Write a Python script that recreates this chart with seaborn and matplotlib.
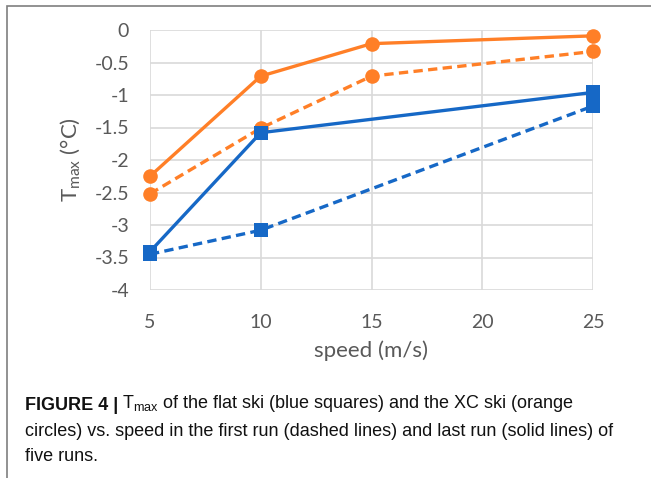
import numpy as np
import pandas as pd
import matplotlib.pyplot as plt
import matplotlib.patches as mpatches
import seaborn as sns

# speed (m/s)
speed_xc = [5, 10, 15, 25]
speed_flat = [5, 10, 25]

# Tmax (°C)
xc_last = [-2.25, -0.71, -0.21, -0.09]
xc_first = [-2.52, -1.51, -0.71, -0.33]
flat_last = [-3.41, -1.58, -0.96]
flat_first = [-3.45, -3.08, -1.17]

y_ticks = [0, -0.5, -1, -1.5, -2, -2.5, -3, -3.5, -4]
x_ticks = [5, 10, 15, 20, 25]

orange = '#ff7f27'
blue = '#1668c6'
gray_txt = '#595959'

sns.set_theme(style="white")
plt.rcParams['font.family'] = ['Lato', 'DejaVu Sans']

fig = plt.figure(figsize=(6.51, 4.78), dpi=100)
ax = fig.add_axes([150/651, 1-290/478, (593-150)/651, (290-30)/478])

dash = (0, (2.8, 1.6))
series = [
    (speed_xc, xc_last, orange, '-', 'o', 10.5),
    (speed_xc, xc_first, orange, dash, 'o', 10.5),
    (speed_flat, flat_last, blue, '-', 's', 10),
    (speed_flat, flat_first, blue, dash, 's', 10),
]
for xs, ys, col, ls, mk, ms in series:
    df = pd.DataFrame({'speed': xs, 'tmax': ys})
    sns.lineplot(data=df, x='speed', y='tmax', ax=ax, color=col, linestyle=ls,
                 linewidth=2.4, marker=mk, markersize=ms, markeredgewidth=0,
                 zorder=3, clip_on=False)

ax.set_xlim(5, 25)
ax.set_ylim(-4, 0)
ax.set_xticks(x_ticks)
ax.set_yticks(y_ticks)
ax.set_yticklabels([f'{v:g}' for v in y_ticks])
ax.grid(True, color='#d9d9d9', linewidth=1.2)
for s in ax.spines.values():
    s.set_visible(False)
ax.tick_params(axis='both', length=0, labelsize=14, colors=gray_txt)
ax.tick_params(axis='y', pad=15)
ax.tick_params(axis='x', pad=17)

ax.set_xlabel('speed (m/s)', fontsize=16, color=gray_txt, labelpad=7)
ax.set_ylabel(r'T$_{\mathregular{max}}$ (°C)', fontsize=16, color=gray_txt, labelpad=8)

# frame around the figure panel
fig.patches.append(mpatches.Rectangle((7/651, -0.1), 1.2, 1 - 6/478 + 0.1,
                                      transform=fig.transFigure, fill=False,
                                      edgecolor='#7f7f7f', linewidth=1.2))

cap_font = ['Liberation Sans Narrow', 'Liberation Sans', 'DejaVu Sans']
cap_size = 13
t1 = fig.text(25/651, 1-410/478, 'FIGURE 4 |', fontsize=cap_size, fontweight='bold',
              family=cap_font, va='baseline', color='#111111')
ax.annotate(r'T$_{\mathregular{max}}$ of the flat ski (blue squares) and the XC ski (orange',
            xy=(1, 0), xycoords=t1, xytext=(3, 0), textcoords='offset points',
            fontsize=cap_size, family=cap_font, va='bottom', color='#111111',
            annotation_clip=False)
fig.text(25/651, 1-436/478,
         'circles) vs. speed in the first run (dashed lines) and last run (solid lines) of',
         fontsize=cap_size, family=cap_font, va='baseline', color='#111111')
fig.text(25/651, 1-461/478, 'five runs.', fontsize=cap_size, family=cap_font,
         va='baseline', color='#111111')

fig.savefig('out.png', dpi=100)
